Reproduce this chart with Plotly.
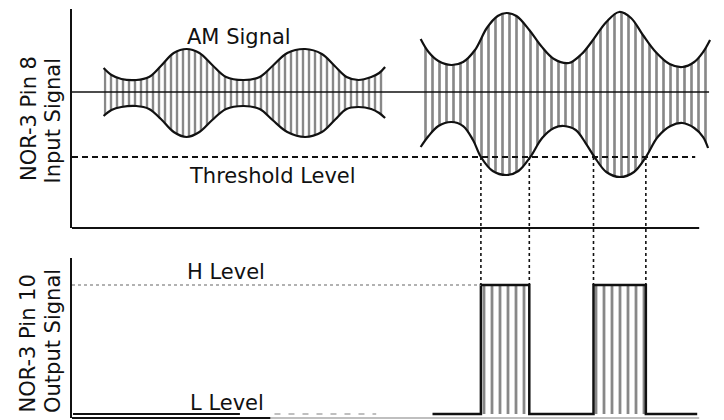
import plotly.graph_objects as go

# ---------------- data (time axis in arbitrary units, amplitude in arbitrary units) ----------------
# AM signal 1 (small) envelope
s1_t = [3.2, 4.0, 5.0, 6.5, 7.8, 9.0, 10.3, 11.6, 12.9, 14.2, 15.6, 17.4, 19.0, 20.3,
        21.8, 23.6, 25.3, 26.6, 27.8, 29.0, 30.3, 31.1, 31.7]
s1_up = [2.4, 1.7, 1.3, 1.2, 1.5, 2.6, 3.9, 4.3, 3.9, 2.7, 1.5, 1.2, 1.5, 2.6,
         3.9, 4.3, 3.8, 2.6, 1.5, 1.2, 1.5, 1.9, 2.5]
s1_lo = [-2.4, -1.8, -1.5, -1.4, -1.7, -2.7, -4.0, -4.5, -4.0, -2.8, -1.7, -1.4, -1.7, -2.8,
         -4.0, -4.5, -4.0, -2.8, -1.7, -1.5, -1.7, -2.1, -2.6]

# AM signal 2 (large) envelope
s2_up_t = [35.3, 36.1, 37.1, 38.4, 39.6, 40.8, 42.0, 43.1, 44.0, 45.0, 46.3, 47.5, 48.8,
           50.3, 51.6, 52.6, 54.1, 55.4, 56.6, 57.8, 59.1, 60.5, 61.8, 63.0, 63.9, 64.6]
s2_up = [5.3, 4.0, 3.1, 2.7, 3.0, 4.2, 6.4, 7.6, 7.9, 7.6, 6.2, 4.6, 3.3,
         2.9, 3.8, 5.0, 7.0, 8.0, 7.4, 5.7, 4.0, 2.8, 2.5, 3.0, 4.0, 5.2]
s2_lo_t = [35.3, 36.1, 37.1, 38.4, 39.6, 40.6, 41.4, 42.6, 44.0, 45.2, 46.4, 47.6, 48.8, 49.8,
           51.0, 52.0, 52.9, 54.1, 55.5, 56.9, 58.1, 59.3, 60.6, 61.8, 63.0, 63.9, 64.4]
s2_lo = [-5.5, -4.4, -3.4, -3.0, -3.4, -4.8, -6.5, -7.9, -8.3, -7.9, -6.5, -4.6, -3.6, -3.4,
         -3.8, -5.1, -6.5, -8.0, -8.5, -8.0, -6.5, -4.5, -3.4, -3.1, -3.6, -4.5, -5.6]

threshold = -6.5
center_end = 64.5
threshold_end = 63.1

# output signal (L = 0, H = 1)
pulse_start = [41.4, 52.8]
pulse_end = [46.3, 58.1]
out_t = [36.5, 41.4, 46.3, 52.8, 58.1, 63.3]
out_v = [0, 1, 0, 1, 0, 0]
low_left_t = [0.1, 17.0]
low_faded_t = [20.5, 30.8]
h_level = 1
h_line_end = 41.4

labels = {"am": "AM Signal", "th": "Threshold Level", "h": "H Level", "l": "L Level"}

# ---------------- layout geometry ----------------
# the page body adds an 8 px margin, so the figure is a little smaller than the window
OFF = 8
W, H = 724 - 2 * OFF, 420 - OFF
ML, MR, MT, MB = 72 - OFF, 2, 9 - OFF, 2
top_dom = [0.4645, 1.0]
bot_dom = [0.0, 0.3912]
top_rng = [-13.6, 8.3]
bot_rng = [-0.031, 1.209]
x_rng = [0, 65]

def px_x(px):
    return (px - OFF - ML) / (W - ML - MR)

def px_y(py):
    return (H - MB - (py - OFF)) / (H - MT - MB)

def data_to_paper(v, dom, rng):
    return dom[0] + (v - rng[0]) / (rng[1] - rng[0]) * (dom[1] - dom[0])

INK = "#111111"
FONT = dict(family="DejaVu Sans", size=21, color=INK)

fig = go.Figure()

# signal 1
fig.add_trace(go.Scatter(x=s1_t, y=s1_up, mode="lines", xaxis="x", yaxis="y",
                         line=dict(color=INK, width=2.2, shape="spline", smoothing=1.0)))
fig.add_trace(go.Scatter(x=s1_t, y=s1_lo, mode="lines", xaxis="x", yaxis="y",
                         line=dict(color=INK, width=2.2, shape="spline", smoothing=1.0),
                         fill="tonexty", fillcolor="rgba(0,0,0,0)",
                         fillpattern=dict(shape="|", size=6, solidity=0.4,
                                          fgcolor=INK, bgcolor="white")))
# signal 2
fig.add_trace(go.Scatter(x=s2_up_t, y=s2_up, mode="lines", xaxis="x", yaxis="y",
                         line=dict(color=INK, width=2.2, shape="spline", smoothing=1.0)))
fig.add_trace(go.Scatter(x=s2_lo_t, y=s2_lo, mode="lines", xaxis="x", yaxis="y",
                         line=dict(color=INK, width=2.2, shape="spline", smoothing=1.0),
                         fill="tonexty", fillcolor="rgba(0,0,0,0)",
                         fillpattern=dict(shape="|", size=7, solidity=0.38,
                                          fgcolor=INK, bgcolor="white")))

# output pulses (hatched)
centers = [(a + b) / 2 for a, b in zip(pulse_start, pulse_end)]
widths = [b - a for a, b in zip(pulse_start, pulse_end)]
fig.add_trace(go.Bar(x=centers, y=[h_level] * len(centers), width=widths, base=0,
                     xaxis="x2", yaxis="y2",
                     marker=dict(color="white", line=dict(width=0),
                                 pattern=dict(shape="|", size=8, solidity=0.35,
                                              fgcolor=INK, bgcolor="white"))))
# output step line
fig.add_trace(go.Scatter(x=out_t, y=out_v, mode="lines", xaxis="x2", yaxis="y2",
                         line=dict(color=INK, width=2.5, shape="hv")))
fig.add_trace(go.Scatter(x=low_left_t, y=[0, 0], mode="lines", xaxis="x2", yaxis="y2",
                         line=dict(color=INK, width=2)))
fig.add_trace(go.Scatter(x=low_faded_t, y=[0, 0], mode="lines", xaxis="x2", yaxis="y2",
                         line=dict(color="#aaaaaa", width=1.5, dash="6px,8px")))
# H level dotted
fig.add_trace(go.Scatter(x=[0, h_line_end], y=[h_level, h_level], mode="lines",
                         xaxis="x2", yaxis="y2",
                         line=dict(color="#999999", width=1.5, dash="dot")))

shapes = []
# centre line & threshold
shapes.append(dict(type="line", xref="x", yref="y", x0=0, x1=center_end, y0=0, y1=0,
                   line=dict(color=INK, width=1.5)))
shapes.append(dict(type="line", xref="x", yref="y", x0=0, x1=threshold_end,
                   y0=threshold, y1=threshold,
                   line=dict(color=INK, width=1.8, dash="6px,4px")))
# baselines
shapes.append(dict(type="line", xref="x", yref="paper", x0=0, x1=63.5,
                   y0=top_dom[0], y1=top_dom[0], line=dict(color=INK, width=2)))
shapes.append(dict(type="line", xref="x2", yref="paper", x0=0, x1=20.1,
                   y0=bot_dom[0], y1=bot_dom[0], line=dict(color=INK, width=2)))
shapes.append(dict(type="line", xref="x2", yref="paper", x0=20.1, x1=63.5,
                   y0=bot_dom[0], y1=bot_dom[0], line=dict(color="#aaaaaa", width=1.5)))
# vertical dotted projection lines
y_th = data_to_paper(threshold, top_dom, top_rng)
y_h = data_to_paper(h_level, bot_dom, bot_rng)
for xe in [pulse_start[0], pulse_end[0], pulse_start[1], pulse_end[1]]:
    shapes.append(dict(type="line", xref="x", yref="paper", x0=xe, x1=xe,
                       y0=y_th, y1=y_h, line=dict(color=INK, width=1.6, dash="dot")))

annotations = [
    dict(text=labels["am"], x=16.9, y=5.55, xref="x", yref="y", showarrow=False, font=FONT),
    dict(text=labels["th"], x=20.3, y=-8.4, xref="x", yref="y", showarrow=False, font=FONT),
    dict(text=labels["h"], x=15.6, y=1.10, xref="x2", yref="y2", showarrow=False, font=FONT),
    dict(text=labels["l"], x=15.7, y=0.089, xref="x2", yref="y2", showarrow=False, font=FONT),
]
for txt, cx, cy in [("NOR-3 Pin 8", 28.5, 118.5), ("Input Signal", 52.5, 121),
                    ("NOR-3 Pin 10", 27.5, 344), ("Output Signal", 52.5, 341.5)]:
    annotations.append(dict(text=txt, x=px_x(cx), y=px_y(cy), xref="paper", yref="paper",
                            textangle=-90, showarrow=False, font=FONT,
                            xanchor="center", yanchor="middle"))

axis_y = dict(showline=True, linecolor=INK, linewidth=2, showticklabels=False, ticks="",
              showgrid=False, zeroline=False, fixedrange=True)
fig.update_layout(
    width=W, height=H, margin=dict(l=ML, r=MR, t=MT, b=MB),
    paper_bgcolor="white", plot_bgcolor="white", showlegend=False, barmode="overlay",
    xaxis=dict(domain=[0, 1], range=x_rng, visible=False, anchor="y"),
    yaxis=dict(domain=top_dom, range=top_rng, anchor="x", **axis_y),
    xaxis2=dict(domain=[0, 1], range=x_rng, visible=False, anchor="y2"),
    yaxis2=dict(domain=bot_dom, range=bot_rng, anchor="x2", **axis_y),
    shapes=shapes, annotations=annotations,
)

fig.write_html("out.html")
